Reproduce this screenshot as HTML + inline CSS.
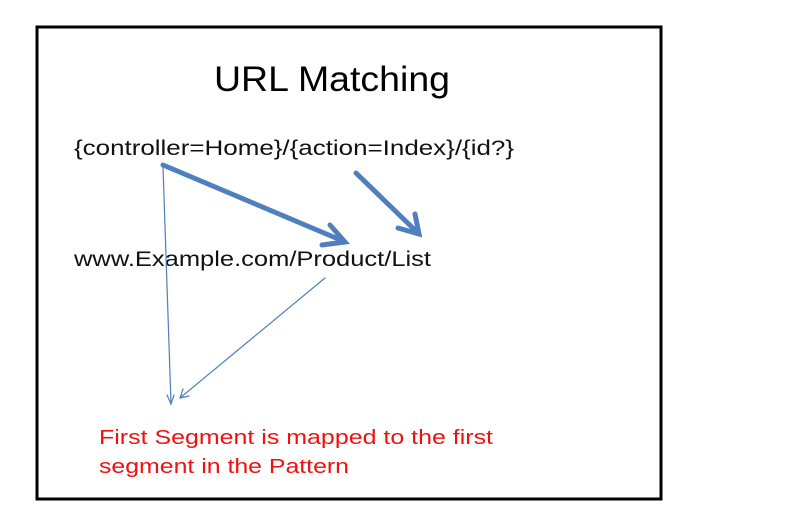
<!DOCTYPE html>
<html><head><style>
body{margin:0;background:#fff;width:809px;height:504px;overflow:hidden}
</style></head><body>
<svg width="809" height="504" xmlns="http://www.w3.org/2000/svg" font-family="Liberation Sans, sans-serif">
<rect x="37" y="27" width="624" height="472" fill="#fff" stroke="#000" stroke-width="3"/>
<text x="332" y="91" font-size="35" text-anchor="middle" textLength="236" lengthAdjust="spacingAndGlyphs" fill="#000">URL Matching</text>
<text x="74" y="155" font-size="21" textLength="440" lengthAdjust="spacingAndGlyphs" fill="#111">{controller=Home}/{action=Index}/{id?}</text>
<text x="74" y="266" font-size="21" textLength="357" lengthAdjust="spacingAndGlyphs" fill="#111">www.Example.com/Product/List</text>
<text x="99" y="444" font-size="20" textLength="394" lengthAdjust="spacingAndGlyphs" fill="#f01010">First Segment  is mapped to the first</text>
<text x="99" y="473" font-size="20" textLength="250" lengthAdjust="spacingAndGlyphs" fill="#f01010">segment in the Pattern</text>
<g stroke="#4f7fbd" fill="none" stroke-linecap="round">
<line x1="163" y1="165" x2="343" y2="241" stroke-width="5"/>
<polyline points="330,225 345,242 322,245" stroke-width="5"/>
<line x1="356" y1="173" x2="418" y2="233" stroke-width="5"/>
<polyline points="415,214 419,234 398,228" stroke-width="5"/>
<line x1="163" y1="167" x2="171" y2="404" stroke-width="1.2"/>
<polyline points="167,395 171,404 174,395" stroke-width="1.2"/>
<line x1="325" y1="278" x2="180" y2="398" stroke-width="1.2"/>
<polyline points="183,389 180,398 189,396" stroke-width="1.2"/>
</g>
</svg>
</body></html>
